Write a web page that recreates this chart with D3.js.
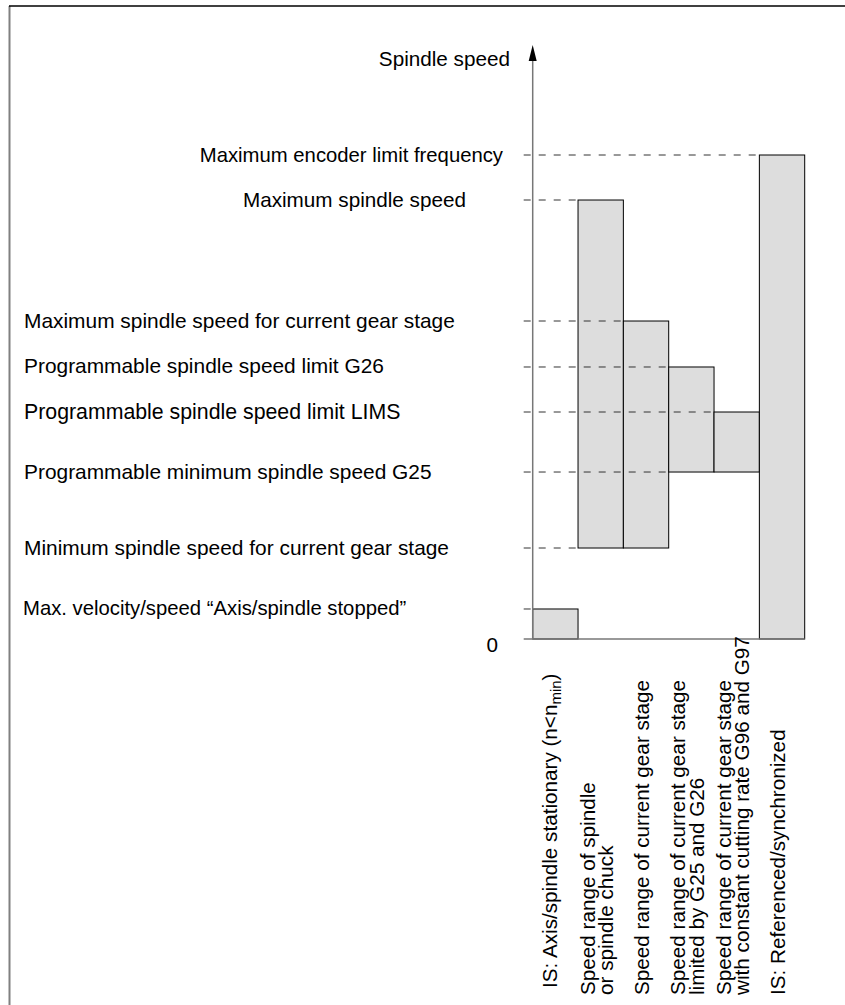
<!DOCTYPE html>
<html>
<head>
<meta charset="utf-8">
<script src="https://cdn.jsdelivr.net/npm/d3@7"></script>
<style>
  html, body { margin: 0; padding: 0; background: #fff; }
  svg { display: block; }
  text { font-family: "Liberation Sans", Arial, Helvetica, sans-serif; fill: #000; }
</style>
</head>
<body>
<svg id="chart" width="845" height="1005"></svg>
<script>
// ---------- data ----------
const levelLabels = [
  "Maximum encoder limit frequency",
  "Maximum spindle speed",
  "Maximum spindle speed for current gear stage",
  "Programmable spindle speed limit G26",
  "Programmable spindle speed limit LIMS",
  "Programmable minimum spindle speed G25",
  "Minimum spindle speed for current gear stage",
  "Max. velocity/speed \u201CAxis/spindle stopped\u201D"
];
const levelValues = [100, 90.7, 65.7, 56.2, 46.9, 34.5, 18.8, 6.2];

const categories = ["stationary", "spindle", "gear", "g25g26", "css", "referenced"];
const categoryLines = [
  ["IS: Axis/spindle stationary (n<n", "min", ")"],
  ["Speed range of spindle", "or spindle chuck"],
  ["Speed range of current gear stage"],
  ["Speed range of current gear stage", "limited by G25 and G26"],
  ["Speed range of current gear stage", "with constant cutting rate G96 and G97"],
  ["IS: Referenced/synchronized"]
];
const barLow  = [0,   18.8, 18.8, 34.5, 34.5, 0];
const barHigh = [6.2, 90.7, 65.7, 56.2, 46.9, 100];

const axisTitle = "Spindle speed";
const zeroLabel = "0";

// ---------- layout ----------
const svg = d3.select("#chart");
const axisX = 532.7, rightX = 804.7;
const y = d3.scaleLinear().domain([0, 100]).range([639, 155]);
const x = d3.scaleBand().domain(categories).range([axisX, rightX]).padding(0);
const fontSize = 20.7;

// frame
svg.append("line").attr("x1", 9.5).attr("x2", 9.5).attr("y1", 6).attr("y2", 1005)
  .attr("stroke", "#808080").attr("stroke-width", 2);
svg.append("line").attr("x1", 9).attr("x2", 845).attr("y1", 6).attr("y2", 6)
  .attr("stroke", "#000").attr("stroke-width", 1.5);

// bars
const bars = categories.map((c, i) => ({ c, lo: barLow[i], hi: barHigh[i] }));
svg.append("g").selectAll("rect").data(bars).join("rect")
  .attr("x", d => x(d.c))
  .attr("y", d => y(d.hi))
  .attr("width", x.bandwidth())
  .attr("height", d => y(d.lo) - y(d.hi))
  .attr("fill", "#dddddd")
  .attr("stroke", "#000")
  .attr("stroke-width", 1);

// dashed level lines: from left of axis to the leftmost bar edge touching that level
const dashStart = axisX - 9;
const levels = levelValues.map((v, i) => {
  let minX = rightX;
  bars.forEach(b => {
    if (b.hi === v || (b.lo === v && v > 0)) minX = Math.min(minX, x(b.c));
  });
  return { v, label: levelLabels[i], endX: minX };
});
svg.append("g").selectAll("line").data(levels).join("line")
  .attr("x1", dashStart).attr("x2", d => d.endX)
  .attr("y1", d => y(d.v)).attr("y2", d => y(d.v))
  .attr("stroke", "#333").attr("stroke-width", 1)
  .attr("stroke-dasharray", "7,8");

// axis (vertical with arrow) and baseline
const arrowTip = 45;
svg.append("line").attr("x1", axisX).attr("x2", axisX)
  .attr("y1", y(0)).attr("y2", arrowTip + 10)
  .attr("stroke", "#777").attr("stroke-width", 1.5);
svg.append("path")
  .attr("d", `M${axisX},${arrowTip} L${axisX - 4},${arrowTip + 16} L${axisX + 4},${arrowTip + 16} Z`)
  .attr("fill", "#000");
svg.append("line").attr("x1", dashStart).attr("x2", rightX)
  .attr("y1", y(0)).attr("y2", y(0))
  .attr("stroke", "#777").attr("stroke-width", 1.5);

// axis title and zero
svg.append("text").attr("x", 510).attr("y", 65.5).attr("text-anchor", "end")
  .attr("font-size", fontSize).text(axisTitle);
svg.append("text").attr("x", 498).attr("y", y(0) + 13).attr("text-anchor", "end")
  .attr("font-size", fontSize).text(zeroLabel);

// level labels
const labelAnchor = [
  { x: 503, a: "end",   fs: 20.3 },
  { x: 466, a: "end",   fs: 20.7 },
  { x: 24,  a: "start", fs: 20.9 },
  { x: 24,  a: "start", fs: 20.9 },
  { x: 24,  a: "start", fs: 21.3 },
  { x: 24,  a: "start", fs: 20.9 },
  { x: 24,  a: "start", fs: 20.9 },
  { x: 23,  a: "start", fs: 20.3 }
];
svg.append("g").selectAll("text").data(levels).join("text")
  .attr("x", (d, i) => labelAnchor[i].x)
  .attr("y", d => y(d.v) + 6.5)
  .attr("text-anchor", (d, i) => labelAnchor[i].a)
  .attr("font-size", (d, i) => labelAnchor[i].fs)
  .text(d => d.label);

// category labels (rotated)
const catG = svg.append("g");
categories.forEach((c, i) => {
  const cx = x(c) + x.bandwidth() / 2;
  const lines = categoryLines[i];
  const startY = i === 0 ? 988 : 995;
  if (i === 0) {
    const t = catG.append("text")
      .attr("transform", `translate(${cx + 2},${startY}) rotate(-90)`)
      .attr("font-size", fontSize);
    t.append("tspan").text(lines[0]);
    t.append("tspan").attr("font-size", 15).attr("dy", 4).text(lines[1]);
    t.append("tspan").attr("dy", -4).text(lines[2]);
  } else if (lines.length === 1) {
    catG.append("text")
      .attr("transform", `translate(${cx + 3},${startY}) rotate(-90)`)
      .attr("font-size", fontSize).text(lines[0]);
  } else {
    const t = catG.append("text")
      .attr("transform", `translate(${cx - 6},${startY}) rotate(-90)`)
      .attr("font-size", fontSize);
    lines.forEach((ln, k) => {
      t.append("tspan").attr("x", 0).attr("dy", k === 0 ? 0 : 18.5).text(ln);
    });
  }
});
</script>
</body>
</html>
